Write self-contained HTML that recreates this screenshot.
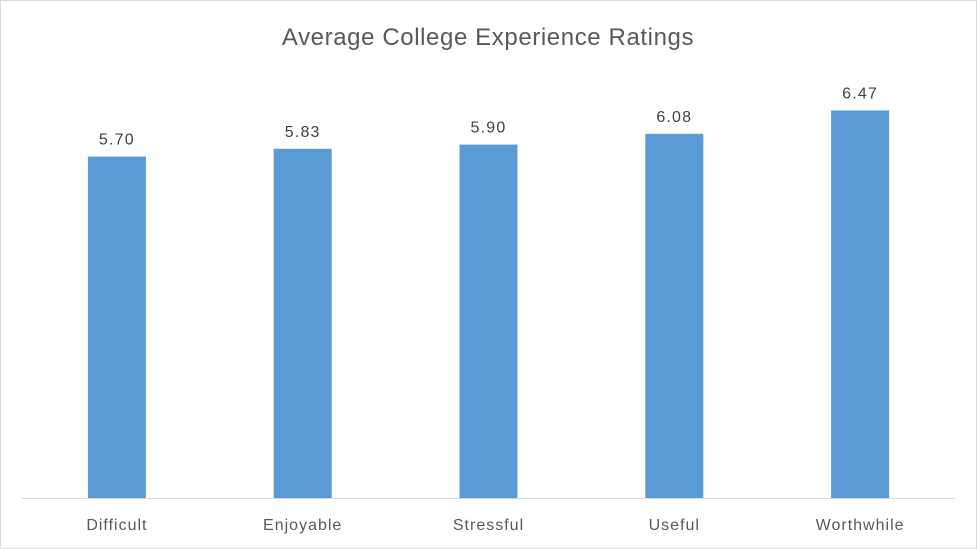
<!DOCTYPE html>
<html><head><meta charset="utf-8">
<style>
html,body{margin:0;padding:0;background:#fff;}
svg{display:block;font-family:"Liberation Sans",Calibri,sans-serif;}
</style></head>
<body>
<svg id="chart" width="977" height="549">
<rect x="0.5" y="0.5" width="976" height="548" fill="#fff" stroke="#d9d9d9"/>
<text x="488" y="45" text-anchor="middle" font-size="24" letter-spacing="0.6" fill="#595959">Average College Experience Ratings</text>
<g id="bars"></g>
<line x1="22" y1="498.5" x2="955" y2="498.5" stroke="#d9d9d9" stroke-width="1"/>
</svg>
<script>
const categories = ["Difficult","Enjoyable","Stressful","Useful","Worthwhile"];
const values = [5.70,5.83,5.90,6.08,6.47];
const valueLabels = ["5.70","5.83","5.90","6.08","6.47"];
const plotLeft = 24, plotRight = 953, baseY = 498, pxPerUnit = 59.9, barW = 58;
const band = (plotRight - plotLeft) / categories.length;
function xCenter(i){ return plotLeft + band * (i + 0.5); }
function yPos(v){ return baseY - v * pxPerUnit; }
const ns = "http://www.w3.org/2000/svg";
const g = document.getElementById("bars");
categories.forEach((c, i) => {
  const cx = xCenter(i), y = yPos(values[i]);
  const r = document.createElementNS(ns, "rect");
  r.setAttribute("x", cx - barW/2); r.setAttribute("y", y);
  r.setAttribute("width", barW); r.setAttribute("height", baseY - y);
  r.setAttribute("fill", "#5b9bd5");
  
  
  g.appendChild(r);
  const t = document.createElementNS(ns, "text");
  t.setAttribute("x", cx); t.setAttribute("y", y - 12);
  t.setAttribute("text-anchor", "middle"); t.setAttribute("font-size", "16"); t.setAttribute("letter-spacing", "1.2"); t.setAttribute("fill", "#404040");
  t.textContent = valueLabels[i];
  
  
  g.appendChild(t);
  const l = document.createElementNS(ns, "text");
  l.setAttribute("x", cx); l.setAttribute("y", 530);
  l.setAttribute("text-anchor", "middle"); l.setAttribute("font-size", "16"); l.setAttribute("letter-spacing", "1"); l.setAttribute("fill", "#595959");
  l.textContent = c;
  
  
  g.appendChild(l);
});
</script>
</body></html>
